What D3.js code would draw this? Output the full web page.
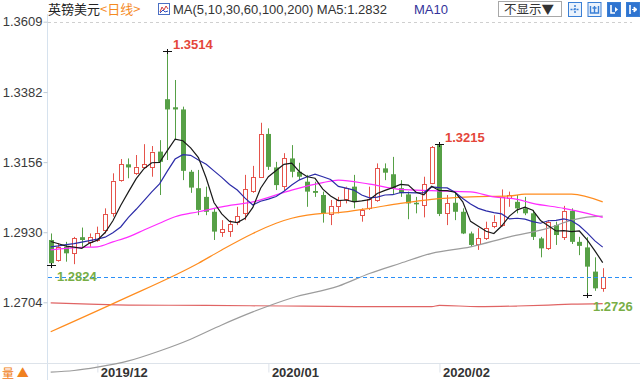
<!DOCTYPE html>
<html><head><meta charset="utf-8">
<script src="https://cdn.jsdelivr.net/npm/d3@7"></script>
<style>
html,body{margin:0;padding:0;background:#fff;overflow:hidden}
svg{display:block}
text{font-family:"Liberation Sans",Arial,sans-serif}
</style></head><body>
<svg id="c" width="640" height="380"></svg>
<script>
// ---------- data ----------
const dates = [
"2019-11-22","2019-11-25","2019-11-26","2019-11-27","2019-11-28","2019-11-29",
"2019-12-02","2019-12-03","2019-12-04","2019-12-05","2019-12-06","2019-12-09","2019-12-10","2019-12-11","2019-12-12","2019-12-13",
"2019-12-16","2019-12-17","2019-12-18","2019-12-19","2019-12-20","2019-12-23","2019-12-24","2019-12-25","2019-12-26","2019-12-27","2019-12-30","2019-12-31",
"2020-01-02","2020-01-03","2020-01-06","2020-01-07","2020-01-08","2020-01-09","2020-01-10","2020-01-13","2020-01-14","2020-01-15","2020-01-16","2020-01-17",
"2020-01-20","2020-01-21","2020-01-22","2020-01-23","2020-01-24","2020-01-27","2020-01-28","2020-01-29","2020-01-30","2020-01-31",
"2020-02-03","2020-02-04","2020-02-05","2020-02-06","2020-02-07","2020-02-10","2020-02-11","2020-02-12","2020-02-13","2020-02-14",
"2020-02-17","2020-02-18","2020-02-19","2020-02-20","2020-02-21","2020-02-24","2020-02-25","2020-02-26","2020-02-27","2020-02-28",
"2020-03-02","2020-03-03"];

const open  = [1.2905,1.2840,1.2883,1.2862,1.2914,1.2899,1.2905,1.2937,1.2991,1.3098,1.3149,1.3120,1.3141,1.3139,1.3190,1.3359,1.3333,1.3326,1.3125,1.3072,
1.3044,1.2996,1.2932,1.2935,1.2964,1.2991,1.3064,1.3109,1.3247,1.3139,1.3079,1.3168,1.3125,1.3093,1.3063,1.3050,1.2989,1.3015,1.3036,1.3077,
1.2985,1.3007,1.3034,1.3136,1.3117,1.3072,1.3052,1.3025,1.3018,1.3090,1.3211,1.2991,1.3025,1.2996,1.2926,1.2892,1.2910,1.2950,1.2953,1.3039,
1.3028,1.3007,1.2991,1.2910,1.2878,1.2953,1.2915,1.2999,1.2899,1.2881,1.2803,1.2749];
const high  = [1.2926,1.2894,1.2899,1.2915,1.2945,1.2926,1.2948,1.3007,1.3120,1.3166,1.3168,1.3179,1.3214,1.3208,1.3227,1.3514,1.3421,1.3335,1.3131,1.3131,
1.3077,1.3007,1.2969,1.2969,1.3012,1.3115,1.3144,1.3283,1.3265,1.3157,1.3185,1.3211,1.3154,1.3115,1.3093,1.3061,1.3034,1.3044,1.3077,1.3115,
1.3007,1.3077,1.3152,1.3152,1.3173,1.3098,1.3061,1.3044,1.3109,1.3208,1.3215,1.3050,1.3061,1.3007,1.2932,1.2943,1.2964,1.2985,1.3068,1.3061,
1.3050,1.3044,1.3002,1.2915,1.2969,1.2964,1.3015,1.3007,1.2915,1.2914,1.2849,1.2814];
const low   = [1.2824,1.2835,1.2835,1.2827,1.2883,1.2883,1.2899,1.2926,1.2980,1.3093,1.3104,1.3115,1.3136,1.3109,1.3050,1.3163,1.3227,1.3098,1.3057,1.2985,
1.2985,1.2905,1.2915,1.2915,1.2953,1.2969,1.3057,1.3107,1.3131,1.3066,1.3066,1.3107,1.3098,1.3012,1.3044,1.2961,1.2953,1.2991,1.3023,1.3007,
1.2964,1.3002,1.3028,1.3098,1.3050,1.3044,1.2972,1.2991,1.2978,1.3085,1.2982,1.2953,1.2969,1.2924,1.2883,1.2873,1.2905,1.2943,1.2948,1.3012,
1.2991,1.2985,1.2905,1.2849,1.2873,1.2889,1.2905,1.2892,1.2856,1.2726,1.2741,1.2738];
const close = [1.2830,1.2883,1.2862,1.2910,1.2905,1.2915,1.2928,1.2989,1.3096,1.3150,1.3139,1.3141,1.3150,1.3190,1.3157,1.3326,1.3326,1.3128,1.3074,1.3002,
1.2996,1.2932,1.2939,1.2956,1.2982,1.3068,1.3107,1.3247,1.3141,1.3082,1.3168,1.3125,1.3109,1.3061,1.3057,1.2991,1.3015,1.3034,1.3074,1.3028,
1.3002,1.3036,1.3136,1.3122,1.3072,1.3056,1.3023,1.3020,1.3085,1.3204,1.2989,1.3023,1.2996,1.2926,1.2889,1.2910,1.2943,1.2964,1.3044,1.3050,
1.3007,1.2991,1.2915,1.2878,1.2964,1.2921,1.2999,1.2899,1.2886,1.2819,1.2749,1.2785];

const ma5  = [1.2900,1.2893,1.2885,1.2882,1.2878,1.2895,1.2904,1.2929,1.2967,1.3016,1.3060,1.3103,1.3135,1.3154,1.3155,1.3193,1.3230,1.3225,1.3202,1.3171,
1.3105,1.3026,1.2989,1.2965,1.2961,1.2975,1.3010,1.3072,1.3109,1.3129,1.3149,1.3153,1.3125,1.3109,1.3104,1.3069,1.3047,1.3032,1.3034,1.3028,
1.3031,1.3035,1.3055,1.3065,1.3074,1.3084,1.3082,1.3059,1.3051,1.3078,1.3064,1.3064,1.3059,1.3028,1.2965,1.2949,1.2933,1.2926,1.2950,1.2982,
1.3002,1.3011,1.3001,1.2968,1.2951,1.2934,1.2935,1.2932,1.2934,1.2905,1.2870,1.2832];
const ma10 = [1.2883,1.2886,1.2890,1.2893,1.2898,1.2903,1.2908,1.2914,1.2928,1.2947,1.2978,1.3004,1.3032,1.3060,1.3086,1.3127,1.3166,1.3180,1.3178,1.3163,
1.3149,1.3128,1.3107,1.3084,1.3066,1.3040,1.3018,1.3030,1.3037,1.3045,1.3062,1.3082,1.3099,1.3109,1.3117,1.3109,1.3100,1.3078,1.3072,1.3066,
1.3050,1.3041,1.3043,1.3050,1.3051,1.3058,1.3058,1.3057,1.3058,1.3076,1.3074,1.3073,1.3059,1.3039,1.3021,1.3007,1.2999,1.2993,1.2989,1.2973,
1.2975,1.2972,1.2964,1.2959,1.2967,1.2968,1.2973,1.2967,1.2951,1.2928,1.2902,1.2882];
// longer averages at selected sessions: [session index, value]
const ma30  = [[0,1.2873],[2,1.2878],[4,1.2881],[6,1.2883],[8,1.2899],[10,1.2915],[12,1.2937],[14,1.2959],[16,1.2980],[19,1.2996],[22,1.3012],[26,1.3028],
[31,1.3066],[35,1.3090],[37,1.3098],[41,1.3085],[45,1.3068],[49,1.3064],[54,1.3060],[57,1.3044],[60,1.3036],[62,1.3023],[66,1.3007],[69,1.2991],[71,1.2978]];
const ma60  = [[0,1.2609],[9,1.2711],[19,1.2830],[22,1.2873],[26,1.2926],[29,1.2959],[31,1.2975],[33,1.2985],[35,1.2991],[37,1.2993],[41,1.3007],[45,1.3023],
[49,1.3036],[54,1.3044],[59,1.3047],[61,1.3053],[67,1.3053],[71,1.3028]];
const ma100 = [[0,1.2479],[3,1.2484],[6,1.2495],[10,1.2515],[14,1.2547],[18,1.2585],[22,1.2631],[26,1.2673],[31,1.2718],[37,1.2756],[41,1.2797],[45,1.2830],
[49,1.2862],[54,1.2883],[59,1.2915],[64,1.2943],[67,1.2969],[69,1.2979],[71,1.2982]];
const ma200 = [[0,1.2702],[5,1.2698],[10,1.2695],[20,1.2694],[30,1.2692],[40,1.2690],[49,1.2690],[50,1.2694],[55,1.2690],[60,1.2692],[64,1.2695],[67,1.2698],[71,1.2700]];

const yTickValues = [1.3609,1.3382,1.3156,1.2930,1.2704];
const monthTickDates = ["2019-12-02","2020-01-02","2020-02-03"];
const monthTickLabels = ["2019/12","2020/01","2020/02"];
const highMarks = [15,50];
const lowMarks = [0,69];
const titleName = "英镑美元", titlePeriod = "<日线>", maTitle = "MA(5,10,30,60,100,200)";
const menuLabel = "不显示▼";

// ---------- drawing ----------
const svg = d3.select("#c");
const RED = "#e5534b", GREEN = "#56a046";
const fmt = d3.format(".4f");
const x = d3.scalePoint().domain(dates).range([50.7, 602.7]);
const y = d3.scaleLinear().domain([1.2704, 1.3609]).range([302.3, 21.7]);
const px = d => Math.round(x(d));

// axes frame
svg.append("line").attr("x1",47.5).attr("x2",47.5).attr("y1",14).attr("y2",380).attr("stroke","#d6e2ee");
svg.append("line").attr("x1",0).attr("x2",640).attr("y1",363.5).attr("y2",363.5).attr("stroke","#dde3ea");
svg.append("line").attr("x1",48).attr("x2",632).attr("y1",Math.round(y(yTickValues[0]))+0.5).attr("y2",Math.round(y(yTickValues[0]))+0.5)
  .attr("stroke","#cfcfcf").attr("stroke-dasharray","3,3");

const yAxis = svg.append("g").attr("transform","translate(47.5,0)")
  .call(d3.axisLeft(y).tickValues(yTickValues).tickFormat(fmt).tickSize(4).tickPadding(1));
yAxis.select(".domain").remove();
yAxis.selectAll(".tick line").attr("stroke","#bfcbd6");
yAxis.selectAll("text").attr("fill","#3a3a3a").style("font-size","13px").style("font-family","'Liberation Sans',Arial,sans-serif");

const xAxis = svg.append("g").attr("transform","translate(0,363.5)")
  .call(d3.axisBottom(x).tickValues(monthTickDates).tickFormat((d,i)=>monthTickLabels[i]).tickSize(9));
xAxis.select(".domain").remove();
xAxis.selectAll(".tick line").attr("stroke","#dde3ea");
xAxis.selectAll("text").attr("fill","#333").attr("text-anchor","start").attr("x",3).attr("y",13).attr("dy",null)
  .style("font-size","13px").style("font-weight","bold").style("font-family","'Liberation Sans',Arial,sans-serif");

// candles
const idx = d3.range(dates.length);
const cg = svg.append("g");
idx.forEach(i => {
  const cx = px(dates[i]);
  const up = close[i] >= open[i];
  const col = up ? RED : GREEN;
  const yt = y(Math.max(open[i], close[i])), yb = y(Math.min(open[i], close[i]));
  if (up) {
    cg.append("line").attr("x1",cx+0.5).attr("x2",cx+0.5).attr("y1",y(high[i])).attr("y2",yt).attr("stroke",col);
    cg.append("line").attr("x1",cx+0.5).attr("x2",cx+0.5).attr("y1",yb).attr("y2",y(low[i])).attr("stroke",col);
    cg.append("rect").attr("x",cx-1.5).attr("y",Math.round(yt)+0.5).attr("width",4).attr("height",Math.max(1,Math.round(yb)-Math.round(yt)))
      .attr("fill","#fff").attr("stroke",col);
  } else {
    cg.append("line").attr("x1",cx+0.5).attr("x2",cx+0.5).attr("y1",y(high[i])).attr("y2",y(low[i])).attr("stroke",col);
    cg.append("rect").attr("x",cx-2).attr("y",yt).attr("width",5).attr("height",Math.max(1.5,yb-yt)).attr("fill",col);
  }
});

// moving averages
const lineFull = d3.line().x((d,i)=>x(dates[i])).y(d=>y(d));
const linePairs = d3.line().x(d=>x(dates[d[0]])).y(d=>y(d[1])).curve(d3.curveMonotoneX);
const lg = svg.append("g").attr("fill","none").attr("stroke-width",1.2);
lg.append("path").attr("d",linePairs(ma200)).attr("stroke","#e06464");
lg.append("path").attr("d",linePairs(ma100)).attr("stroke","#9c9c9c");
lg.append("path").attr("d",linePairs(ma60)).attr("stroke","#ff8c1e");
lg.append("path").attr("d",linePairs(ma30)).attr("stroke","#ff2cff");
lg.append("path").attr("d",lineFull(ma10)).attr("stroke","#2c2ca8");
lg.append("path").attr("d",lineFull(ma5)).attr("stroke","#1a1a1a");

// current price line
const yp = Math.round(y(close[close.length-1]))+0.5;
svg.append("line").attr("x1",48).attr("x2",632).attr("y1",yp).attr("y2",yp)
  .attr("stroke","#2a8ff7").attr("stroke-width",1.2).attr("stroke-dasharray","4,3");

// extreme markers
function cross(cx, cy){
  svg.append("line").attr("x1",cx-4).attr("x2",cx+5).attr("y1",cy).attr("y2",cy).attr("stroke","#111");
  svg.append("line").attr("x1",cx+0.5).attr("x2",cx+0.5).attr("y1",cy-2.5).attr("y2",cy+2.5).attr("stroke","#111");
}
highMarks.forEach(i => {
  const cx = px(dates[i]), cy = Math.round(y(high[i]))+0.5;
  cross(cx, cy);
  svg.append("text").attr("x",cx+6).attr("y",cy-3).text(fmt(high[i]))
    .attr("fill","#e4463a").style("font-size","13px").style("font-weight","bold");
});
lowMarks.forEach(i => {
  const cx = px(dates[i]), cy = Math.round(y(low[i]))+0.5;
  cross(cx, cy);
  svg.append("text").attr("x",cx+6).attr("y",cy+15).text(fmt(low[i]))
    .attr("fill","#78ae46").style("font-size","13px").style("font-weight","bold");
});

// header
const hd = svg.append("text").attr("x",48).attr("y",14).style("font-size","13px");
hd.append("tspan").text(titleName).attr("fill","#222").style("font-family","'Noto Sans CJK SC',sans-serif");
hd.append("tspan").text(titlePeriod).attr("fill","#f58a1f").style("font-family","'Noto Sans CJK SC',sans-serif");
// small indicator icon
const ic = svg.append("g").attr("transform","translate(158,3)");
ic.append("rect").attr("x",0.5).attr("y",0.5).attr("width",11).attr("height",11).attr("fill","#fff").attr("stroke","#4a6fc4");
ic.append("polyline").attr("points","2,9 4,4 6,7 8,3 10,6").attr("fill","none").attr("stroke","#d24040").attr("stroke-width",1);
ic.append("polyline").attr("points","2,10 5,7 7,9 10,8").attr("fill","none").attr("stroke","#3050c0").attr("stroke-width",1);
svg.append("text").attr("x",173).attr("y",14).style("font-size","13px").attr("fill","#333")
  .text(maTitle + " MA5:" + fmt(ma5[ma5.length-1]));
svg.append("text").attr("x",414).attr("y",14).style("font-size","13px").attr("fill","#33339a").text("MA10");

// menu + buttons
svg.append("rect").attr("x",498.5).attr("y",1.5).attr("width",63).attr("height",15).attr("fill","#fff").attr("stroke","#a8a8a8");
svg.append("text").attr("x",504).attr("y",13.5).style("font-size","12.5px").attr("fill","#333")
  .style("font-family","'Noto Sans CJK SC',sans-serif").text(menuLabel);
[568,587.5,607,626].forEach((bx,k) => {
  const g = svg.append("g").attr("transform",`translate(${bx},2)`);
  const solid = k >= 2;
  g.append("rect").attr("x",0.5).attr("y",0.5).attr("width",13).attr("height",14)
    .attr("fill", solid ? "#2f74d0" : "#eaf2fc").attr("stroke","#3a7fd5");
  const c = solid ? "#fff" : "#3a7fd5";
  if (k === 0) {
    g.append("path").attr("d","M7,3V12M2.5,7.5H11.5").attr("stroke",c).attr("stroke-width",1.5).attr("stroke-dasharray","2,1");
  } else if (k === 1) {
    g.append("path").attr("d","M3,4V11H11V4M7,4V11M5,6H9").attr("fill","none").attr("stroke",c).attr("stroke-width",1.4);
  } else if (k === 2) {
    g.append("path").attr("d","M4,3V11H8").attr("fill","none").attr("stroke",c).attr("stroke-width",1.6);
    g.append("path").attr("d","M8,5L11,7.5L8,10Z").attr("fill",c);
  } else {
    g.append("path").attr("d","M4,3V12").attr("stroke",c).attr("stroke-width",1.6);
    g.append("path").attr("d","M6,7.5H9M8,5L11,7.5L8,10Z").attr("fill",c).attr("stroke",c);
  }
});

// volume panel toggle
svg.append("text").attr("x",2).attr("y",378).style("font-size","12px").attr("fill","#f08020")
  .style("font-family","'Noto Sans CJK SC',sans-serif").text("量 ▲");
</script>
</body></html>
